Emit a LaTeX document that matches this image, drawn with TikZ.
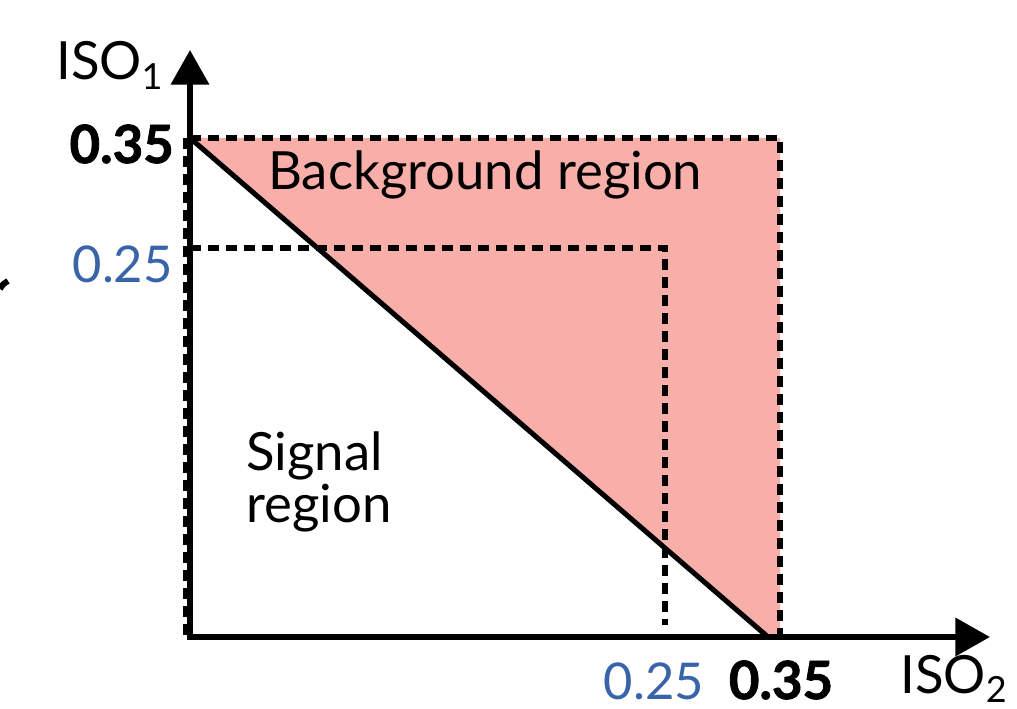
\documentclass[tikz,border=0pt]{standalone}
\usepackage{fontspec}
\setmainfont{Lato}[BoldFont=*-Bold,BoldFeatures={FakeBold=1.6}]
\usetikzlibrary{arrows.meta}
\definecolor{bgpink}{HTML}{F8AEA9}
\definecolor{tickblue}{HTML}{3A64AA}
\newcommand{\subsc}[1]{\raisebox{-0.18em}{\fontsize{27}{27}\selectfont #1}}
\tikzset{
  axisline/.style={line width=4.5pt,-{Triangle[length=26pt,width=28pt]}},
  dashline/.style={line width=4.3pt,dash pattern=on 8pt off 5.5pt},
  cutline/.style={line width=3.8pt},
  lab/.style={font=\fontsize{39.5}{47}\selectfont,inner sep=0pt},
  blab/.style={font=\fontsize{39.5}{47}\selectfont\bfseries,inner sep=0pt},
  bluelab/.style={font=\fontsize{38}{46}\selectfont,text=tickblue,inner sep=0pt},
  flat/.style={text depth=0pt}
}
\begin{document}
\begin{tikzpicture}[x=0.75pt,y=-0.75pt]
\useasboundingbox (0,0) rectangle (1017,709);
\coordinate (O) at (190,637);
\coordinate (yt) at (190,50);
\coordinate (xt) at (990,637);
\coordinate (a35) at (190,138);
\coordinate (c35) at (780,138);
\coordinate (x35) at (780,637);
\coordinate (d35) at (768,637);
\coordinate (a25) at (190,248);
\coordinate (c25) at (665,248);
\coordinate (x25) at (665,625);
% background region fill
\fill[bgpink] (a35) -- (c35) -- (x35) -- (d35) -- cycle;
% dashed lines
\draw[dashline] (186,138) -- (186,637);
\draw[dashline] (a35) -- (c35) -- (x35);
\draw[dashline] (a25) -- (c25) -- (x25);
% cut line
\draw[cutline] (a35) -- (d35);
% axes
\draw[axisline] (O) -- (yt);
\draw[axisline] (187,637) -- (xt);
% left fragment
\coordinate (f1) at (0,289);
\coordinate (f2) at (8,281);
\draw[line width=4.5pt] (f1) .. controls (3,284) .. (f2);
% labels
\node[lab,anchor=base west] (iso1) at (56,80) {ISO\subsc{1}};
\node[lab,flat,anchor=base west] (iso2) at (900,693) {ISO\subsc{2}};
\node[blab,anchor=base east] (y35) at (174,163) {0.35};
\node[bluelab,anchor=base east] (y25) at (173,282) {0.25};
\node[bluelab,flat,anchor=base] (xx25) at (654,699) {0.25};
\node[blab,flat,anchor=base] (xx35) at (781,699) {0.35};
\node[lab,anchor=base west] (bg) at (268,190) {Background region};
\node[lab,anchor=base west] (sig1) at (246,470) {Signal};
\node[lab,anchor=base west] (sig2) at (246,522) {region};
\end{tikzpicture}
\end{document}
